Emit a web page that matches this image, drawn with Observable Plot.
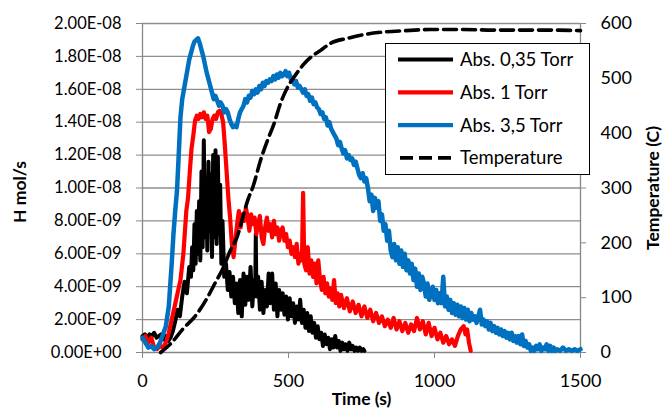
<!DOCTYPE html>
<html><head><meta charset="utf-8">
<script src="https://cdn.jsdelivr.net/npm/d3@7"></script>
<script src="https://cdn.jsdelivr.net/npm/@observablehq/plot@0.6"></script>
<style>
body{margin:0;background:#fff;}
#wrap{position:relative;width:664px;height:416px;font-family:Lato,"Open Sans",sans-serif;}
#legend{position:absolute;left:385px;top:43px;width:205px;height:132px;border:1.2px solid #000;background:#fff;box-sizing:border-box;}
</style></head><body><div id="wrap"></div>
<script>
// ---- axis ticks ----
const xTicks = [0, 500, 1000, 1500];
const leftTicks = [0, 2e-9, 4e-9, 6e-9, 8e-9, 10e-9, 12e-9, 14e-9, 16e-9, 18e-9, 20e-9];
const rightTicks = [0, 100, 200, 300, 400, 500, 600];
const seriesNames = ["Abs. 0,35 Torr", "Abs. 1 Torr", "Abs. 3,5 Torr", "Temperature"];
const seriesColors = ["#000000", "#ff0000", "#0070c0", "#000000"];

// ---- data: [time (s), H flow in 1e-9 mol/s] ----
const abs035 = [[0,1.0],[8,1.1],[16,0.9],[24,1.1],[32,1.0],[40,1.2],[48,0.9],[56,1.0],[64,1.1],[72,0.8],[80,1.0],[88,0.7],[96,0.9],
[104,1.3],[112,1.9],[120,2.6],[128,2.2],[136,3.4],[144,4.3],[152,3.6],[160,5.2],[166,4.6],[170,6.4],[174,5.0],[178,7.8],[182,5.4],
[186,8.6],[190,6.0],[194,9.2],[198,5.6],[202,11.0],[206,6.4],[210,12.9],[214,7.0],[218,10.4],[222,6.2],[226,11.6],[230,7.4],[234,10.8],
[238,5.8],[242,12.0],[246,7.0],[250,12.3],[254,6.6],[258,11.9],[262,7.2],[266,10.2],[270,5.4],[274,8.0],[280,4.6],[286,5.4],[292,3.8],
[298,4.9],[304,3.4],[310,4.6],[316,3.0],[322,4.2],[328,2.4],[334,4.4],[340,2.2],[346,4.8],[352,2.9],[358,4.6],[364,3.2],[370,5.2],
[376,2.8],[382,4.4],[386,3.6],[388,7.2],[390,3.4],[396,4.6],[402,2.6],[408,4.3],[414,2.4],[420,3.8],[426,2.8],[432,4.8],[438,3.0],
[444,4.8],[450,2.6],[456,4.2],[462,2.2],[468,3.8],[474,2.6],[480,3.6],[486,2.3],[492,3.4],[498,2.0],[504,3.3],[510,2.2],[516,3.0],
[522,1.8],[528,2.8],[534,2.0],[540,3.2],[546,1.8],[552,2.6],[558,1.5],[564,2.4],[570,1.3],[576,2.2],[582,1.2],[588,1.8],[594,0.9],
[600,1.6],[606,0.8],[612,1.2],[618,0.4],[624,1.1],[630,0.5],[636,0.9],[642,0.2],[648,0.8],[654,0.3],[660,1.0],[666,0.3],[672,0.7],
[678,0.1],[684,0.6],[690,0.2],[696,0.5],[702,0.1],[708,0.6],[714,0.2],[720,0.4],[726,0.1],[732,0.3],[738,0.1],[744,0.3],[750,0.1],
[756,0.2],[760,0.1]];

const abs1 = [[0,0.8],[10,1.0],[20,0.6],[30,0.9],[40,0.3],[50,0.2],[60,0.4],[70,0.3],[80,0.6],[90,1.2],[100,2.0],[110,2.8],[120,3.6],
[130,4.4],[140,6.0],[150,8.6],[156,9.4],[162,11.0],[168,12.4],[174,13.2],[180,14.1],[186,14.4],[192,14.2],[198,14.5],[204,14.3],
[210,14.6],[216,14.2],[222,14.4],[228,13.4],[234,13.6],[240,14.2],[246,14.4],[252,14.2],[258,14.6],[264,14.7],[270,14.5],[276,14.0],
[282,12.6],[288,11.0],[294,9.4],[300,8.2],[306,6.6],[312,5.8],[318,6.8],[324,7.8],[330,8.6],[336,7.6],[342,8.4],[348,8.0],[354,8.8],
[360,8.2],[366,7.4],[372,8.4],[378,7.8],[384,8.2],[390,7.2],[396,7.8],[402,8.3],[408,7.0],[414,6.6],[420,7.6],[426,8.2],[432,7.4],
[438,7.8],[444,7.0],[450,8.0],[456,7.2],[462,7.6],[468,6.8],[474,7.4],[480,7.6],[486,6.8],[492,7.2],[498,6.4],[504,6.8],[510,6.0],
[516,6.4],[522,5.8],[528,6.6],[534,5.4],[540,6.0],[546,5.6],[550,9.7],[554,5.4],[560,5.0],[566,6.4],[572,4.8],[578,5.6],[584,4.6],
[590,5.4],[596,4.2],[602,5.6],[608,4.4],[614,3.8],[620,4.6],[626,3.6],[632,4.2],[638,3.4],[644,3.9],[650,3.2],[656,4.4],[662,3.0],
[668,3.6],[674,2.8],[680,3.5],[690,2.7],[700,3.3],[710,2.5],[720,3.1],[730,2.4],[740,2.9],[750,2.2],[760,2.8],[770,2.1],[780,2.6],
[790,1.9],[800,2.4],[810,1.8],[820,2.2],[830,1.6],[840,2.0],[850,1.5],[860,2.1],[870,1.4],[880,1.9],[890,1.3],[900,1.8],[910,1.2],
[920,1.7],[930,1.3],[940,2.1],[950,1.4],[960,1.9],[970,1.1],[980,1.8],[990,1.0],[1000,1.5],[1010,0.8],[1020,1.2],[1030,0.6],
[1040,1.0],[1050,0.5],[1060,0.8],[1070,0.4],[1080,1.0],[1090,1.4],[1100,1.6],[1106,1.1],[1112,1.4],[1118,0.6],[1124,0.1]];

const abs35 = [[0,0.9],[10,0.6],[20,0.3],[30,0.4],[40,0.2],[50,0.3],[60,0.6],[70,1.1],[80,1.6],[90,2.8],[100,5.4],[106,7.2],[112,8.6],
[118,9.8],[124,12.0],[130,14.3],[136,15.4],[142,16.0],[148,16.6],[154,17.2],[160,17.8],[166,18.2],[172,18.6],[178,18.9],[184,19.0],
[190,19.1],[196,18.8],[202,18.4],[208,18.0],[214,17.5],[220,17.0],[226,16.6],[232,16.2],[238,15.8],[244,15.4],[250,15.6],[256,15.3],
[262,15.0],[268,15.2],[274,15.0],[280,14.6],[286,14.8],[292,14.6],[298,14.2],[304,13.9],[310,13.7],[316,13.8],[322,13.7],[328,14.2],
[334,14.6],[340,14.8],[346,15.0],[352,15.4],[358,15.2],[364,15.6],[370,15.5],[376,15.9],[382,15.7],[388,16.0],[394,15.8],[400,16.2],
[406,16.0],[412,16.4],[418,16.2],[424,16.5],[430,16.4],[436,16.6],[442,16.5],[448,16.8],[454,16.6],[460,16.9],[466,16.7],[472,17.0],
[478,16.8],[484,16.9],[490,17.1],[496,16.8],[502,17.0],[508,16.6],[514,16.7],[520,16.3],[526,16.5],[532,16.1],[538,16.2],[544,16.0],
[550,15.8],[556,16.0],[562,15.6],[568,15.7],[574,15.3],[580,15.5],[586,15.1],[592,15.2],[598,14.9],[604,14.8],[610,14.5],[616,14.6],
[622,14.2],[628,14.3],[634,13.8],[640,14.0],[646,13.6],[652,13.4],[658,13.2],[664,13.0],[670,12.6],[676,12.8],[682,12.4],[688,12.1],
[694,12.3],[700,11.8],[706,12.0],[712,11.7],[718,11.8],[724,11.4],[730,11.6],[736,11.2],[742,10.8],[748,10.6],[754,10.9],[760,10.4],
[766,10.6],[772,10.0],[778,9.2],[784,9.6],[790,8.6],[796,9.4],[802,8.8],[808,9.2],[814,8.0],[820,8.4],[826,7.4],[832,7.8],[838,6.8],
[844,7.4],[850,6.2],[856,5.8],[862,6.6],[868,5.6],[874,6.4],[880,5.4],[886,6.2],[892,5.2],[898,6.0],[904,5.0],[910,5.6],[916,4.8],
[922,5.4],[928,4.4],[934,5.1],[940,4.0],[946,4.8],[952,3.8],[958,4.6],[964,4.2],[970,3.4],[976,4.2],[982,3.2],[988,3.6],[994,4.0],
[1000,3.2],[1006,3.8],[1012,3.0],[1018,3.6],[1024,3.0],[1030,4.6],[1036,2.8],[1042,3.4],[1048,2.6],[1054,3.2],[1060,2.4],[1066,3.0],
[1072,2.3],[1078,2.9],[1084,2.2],[1090,2.8],[1096,2.1],[1102,2.7],[1108,2.0],[1114,2.6],[1120,1.9],[1126,2.4],[1132,2.0],[1138,2.2],
[1144,1.8],[1150,2.2],[1156,2.6],[1162,1.7],[1168,2.0],[1174,1.6],[1180,1.9],[1186,1.4],[1192,1.8],[1198,1.3],[1204,1.6],[1210,1.2],
[1216,1.5],[1222,1.1],[1228,1.4],[1234,1.0],[1240,1.3],[1246,0.9],[1252,1.2],[1258,0.8],[1264,1.2],[1270,0.7],[1276,1.0],[1282,0.6],
[1288,1.0],[1294,0.5],[1300,1.1],[1306,0.4],[1312,0.7],[1318,0.3],[1324,0.5],[1330,0.1],[1336,0.3],[1342,0.1],[1348,0.4],[1354,0.2],
[1360,0.5],[1366,0.1],[1372,0.3],[1378,0.2],[1384,0.5],[1390,0.1],[1396,0.4],[1402,0.1],[1408,0.3],[1414,0.1],[1420,0.2],[1430,0.1],
[1440,0.3],[1450,0.1],[1460,0.2],[1470,0.1],[1480,0.2],[1490,0.1],[1500,0.2]];

// ---- temperature: [time (s), °C] ----
const temperature = [[62,0],[100,18],[140,44],[180,66],[222,100],[250,128],[277,155],[300,185],[325,212],[345,250],[360,277],
[380,305],[404,350],[428,387],[449,415],[473,455],[497,484],[520,503],[551,525],[580,540],[610,551],[644,564],[702,573],[760,580],
[815,584],[900,587],[986,589],[1100,589],[1200,588],[1300,588],[1400,588],[1500,587]];

// ---- build ----
const yMax = 2e-8, tMax = 600;
const toRow = ([t, v]) => ({t, v: v * 1e-9});
const tempRow = ([t, c]) => ({t, v: c / tMax * yMax});
const sci = d => { const [m, e] = d.toExponential(2).split("e"); const n = +e; return m + "E" + (n < 0 ? "-" : "+") + String(Math.abs(n)).padStart(2, "0"); };
const gridColor = "#8e8e8e", axisColor = "#878787";
const font = "Lato, 'Open Sans', sans-serif";

const chart = Plot.plot({
  width: 664, height: 416,
  marginLeft: 142, marginRight: 84, marginTop: 23, marginBottom: 64,
  style: {fontFamily: font, fontSize: "16px", color: "#000", background: "#fff"},
  x: {domain: [0, 1500]},
  y: {domain: [0, yMax]},
  marks: [
    Plot.gridY(leftTicks.slice(1), {stroke: gridColor, strokeOpacity: 1, strokeWidth: 1.3}),
    Plot.ruleX([0, 1500], {stroke: axisColor, strokeWidth: 1.3}),
    Plot.ruleY([0], {stroke: axisColor, strokeWidth: 1.3}),
    Plot.axisY(leftTicks, {anchor: "left", tickSize: 6, tickPadding: 15, tickFormat: sci, stroke: axisColor, fontSize: 16.5, label: null}),
    Plot.axisY(rightTicks.map(c => c / tMax * yMax), {anchor: "right", tickSize: 5, tickPadding: 15, tickFormat: d => String(Math.round(d / yMax * tMax)), stroke: axisColor, fontSize: 18, label: null}),
    Plot.axisX(xTicks, {tickSize: 6, tickPadding: 16, stroke: axisColor, tickFormat: d => String(d), fontSize: 18, label: null}),
    Plot.line(abs035.map(toRow), {x: "t", y: "v", stroke: seriesColors[0], strokeWidth: 4, strokeLinejoin: "round"}),
    Plot.line(abs1.map(toRow), {x: "t", y: "v", stroke: seriesColors[1], strokeWidth: 4.2, strokeLinejoin: "round"}),
    Plot.line(abs35.map(toRow), {x: "t", y: "v", stroke: seriesColors[2], strokeWidth: 4.5, strokeLinejoin: "round"}),
    Plot.line(temperature.map(tempRow), {x: "t", y: "v", stroke: seriesColors[3], strokeWidth: 3.6, strokeDasharray: "13,6", curve: "monotone-x"}),
    Plot.text(["H mol/s"], {frameAnchor: "left", dx: -122, dy: 4, rotate: -90, textAnchor: "middle", fontWeight: "bold", fontSize: 17.5}),
    Plot.text(["Temperature (C)"], {frameAnchor: "right", dx: 73, rotate: -90, textAnchor: "middle", fontWeight: "bold", fontSize: 17.5}),
    Plot.text(["Time (s)"], {frameAnchor: "bottom", dy: 52, textAnchor: "middle", fontWeight: "bold", fontSize: 17.5})
  ]
});
const wrap = document.getElementById("wrap");
wrap.appendChild(chart);

// ---- legend ----
const legend = document.createElement("div");
legend.id = "legend";
const ns = "http://www.w3.org/2000/svg";
const lsvg = document.createElementNS(ns, "svg");
lsvg.setAttribute("width", 205); lsvg.setAttribute("height", 132);
lsvg.style.position = "absolute"; lsvg.style.left = "-1px"; lsvg.style.top = "-1px";
seriesNames.forEach((name, i) => {
  const cy = 16.5 + i * 32.8;
  const ln = document.createElementNS(ns, "line");
  ln.setAttribute("x1", 13); ln.setAttribute("x2", 68); ln.setAttribute("y1", cy); ln.setAttribute("y2", cy);
  ln.setAttribute("stroke", seriesColors[i]); ln.setAttribute("stroke-width", i === 3 ? 3.6 : 4.2);
  if (i === 3) { ln.setAttribute("stroke-dasharray", "13,6"); ln.setAttribute("x1", 15); }
  lsvg.appendChild(ln);
  const tx = document.createElementNS(ns, "text");
  tx.setAttribute("x", 75); tx.setAttribute("y", cy); tx.setAttribute("dy", "0.35em");
  tx.setAttribute("font-family", font); tx.setAttribute("font-size", 18.5);
  tx.textContent = name;
  lsvg.appendChild(tx);
});
legend.appendChild(lsvg);
wrap.appendChild(legend);
</script></body></html>
